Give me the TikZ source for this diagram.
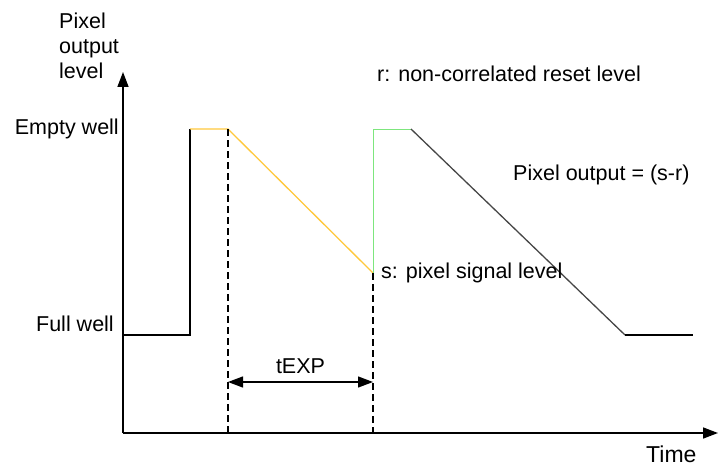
\documentclass[tikz,border=0pt]{standalone}
\usepackage{fontspec}
\setmainfont{Liberation Sans}
\usetikzlibrary{arrows.meta}
\definecolor{expyellow}{RGB}{255,200,60}
\definecolor{resetgreen}{RGB}{125,230,125}
\definecolor{ramp}{RGB}{70,70,70}

\begin{document}
\begin{tikzpicture}[x=1pt, y=-1pt, every node/.style={font=\fontsize{21.5}{25}\selectfont, inner sep=0pt}]
	\tikzstyle{axis_style}=[line width=1.6pt, -{Triangle[length=15pt, width=11pt]}]
	\tikzstyle{level_style}=[line width=1.3pt, black]
	\tikzstyle{guide_style}=[line width=1.1pt, dash pattern=on 7pt off 4pt]
	\tikzstyle{label_style}=[anchor=base west]
	\useasboundingbox (0,0) rectangle (719,468);

	% key points
	\coordinate (origin) at (123, 433);
	\coordinate (y_top) at (123, 72);
	\coordinate (x_end) at (718, 433);
	\coordinate (full_0) at (123, 335);
	\coordinate (full_1) at (190, 335);
	\coordinate (empty_0) at (190, 129);
	\coordinate (empty_1) at (228, 129);
	\coordinate (signal) at (373, 273);
	\coordinate (reset_0) at (373, 129);
	\coordinate (reset_1) at (411, 129);
	\coordinate (full_2) at (625, 335);
	\coordinate (full_3) at (693, 335);
	\coordinate (t_0) at (228, 433);
	\coordinate (t_1) at (373, 433);

	% axes
	\draw[axis_style] (origin) -- (y_top);
	\draw[axis_style] (origin) -- (x_end);
	\node[align=left, anchor=base west] (y_label) at (59, 79) {Pixel\\output\\level};
	\node[anchor=base west, font=\fontsize{23}{26}\selectfont] (x_label) at (646, 462) {Time};

	% levels
	\node[anchor=base east] (empty_label) at (119, 134) {Empty well};
	\node[anchor=base east] (full_label) at (114, 331) {Full well};

	% pixel output
	\draw[level_style] (full_0) -- (full_1) -- (empty_0);
	\draw[line width=1.3pt, expyellow] (empty_0) -- (empty_1) -- (signal);
	\draw[line width=1pt, resetgreen] (signal) -- (reset_0) -- (reset_1);
	\draw[line width=1.3pt, ramp] (reset_1) -- (full_2);
	\draw[level_style] (full_2) -- (full_3);

	% exposure time
	\draw[guide_style] (empty_1) -- (t_0);
	\draw[guide_style] (signal) -- (t_1);
	\path (t_0) ++(0,-51) coordinate (texp_0);
	\path (t_1) ++(0,-51) coordinate (texp_1);
	\draw[line width=1.3pt, {Triangle[length=15pt, width=11pt]}-{Triangle[length=15pt, width=11pt]}] (texp_0) -- (texp_1) node[midway, anchor=base, yshift=9pt] (texp) {tEXP};

	% notes
	\node[label_style] (r_note) at (377, 82) {r: non-correlated reset level};
	\node[label_style] (out_note) at (513, 180) {Pixel output = (s-r)};
	\node[label_style] (s_note) at (381, 278) {s: pixel signal level};
\end{tikzpicture}
\end{document}
